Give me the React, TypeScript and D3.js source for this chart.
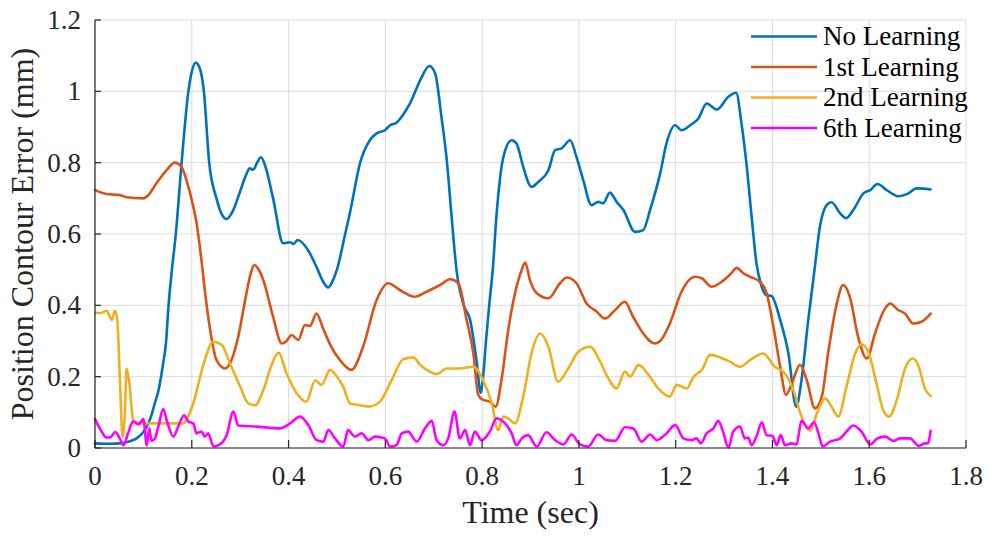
import React from 'react';
import * as d3 from 'd3';

type Pt = [number, number];

// [time (sec), error (mm)]
const noLearning: Pt[] = [
  [0, 0.013], [0.03, 0.012], [0.052, 0.013], [0.07, 0.018], [0.086, 0.027], [0.1, 0.045],
  [0.107, 0.06], [0.115, 0.085], [0.124, 0.127], [0.131, 0.16], [0.14, 0.23], [0.147, 0.3],
  [0.152, 0.4], [0.159, 0.5], [0.167, 0.6], [0.179, 0.8], [0.193, 1.0], [0.2, 1.055],
  [0.208, 1.08], [0.215, 1.07], [0.225, 1.0], [0.236, 0.8], [0.251, 0.7], [0.262, 0.655],
  [0.272, 0.642], [0.285, 0.665], [0.3, 0.72], [0.312, 0.765], [0.32, 0.784], [0.327, 0.78],
  [0.335, 0.8], [0.343, 0.815], [0.352, 0.79], [0.368, 0.7], [0.389, 0.574], [0.403, 0.577],
  [0.41, 0.572], [0.419, 0.583], [0.44, 0.555], [0.458, 0.507], [0.47, 0.47], [0.482, 0.45],
  [0.49, 0.465], [0.5, 0.5], [0.517, 0.6], [0.527, 0.66], [0.548, 0.8], [0.568, 0.863],
  [0.582, 0.882], [0.599, 0.891], [0.61, 0.905], [0.623, 0.912], [0.637, 0.935], [0.651, 0.966],
  [0.672, 1.031], [0.691, 1.071], [0.703, 1.05], [0.716, 0.928], [0.727, 0.807], [0.737, 0.648],
  [0.747, 0.5], [0.762, 0.4], [0.775, 0.36], [0.789, 0.24], [0.797, 0.155], [0.802, 0.2],
  [0.808, 0.3], [0.815, 0.405], [0.822, 0.5], [0.83, 0.657], [0.844, 0.816], [0.861, 0.863],
  [0.871, 0.854], [0.885, 0.788], [0.902, 0.732], [0.916, 0.746], [0.937, 0.779], [0.951, 0.835],
  [0.964, 0.84], [0.982, 0.863], [0.995, 0.816], [1.009, 0.751], [1.026, 0.681], [1.04, 0.69],
  [1.05, 0.686], [1.064, 0.716], [1.078, 0.69], [1.092, 0.667], [1.116, 0.606], [1.133, 0.611],
  [1.147, 0.667], [1.168, 0.77], [1.181, 0.854], [1.199, 0.905], [1.212, 0.891], [1.23, 0.905],
  [1.247, 0.924], [1.264, 0.966], [1.285, 0.949], [1.309, 0.985], [1.325, 0.996], [1.336, 0.91],
  [1.347, 0.788], [1.357, 0.648], [1.367, 0.518], [1.376, 0.46], [1.387, 0.429], [1.398, 0.426],
  [1.416, 0.359], [1.433, 0.265], [1.449, 0.116], [1.46, 0.19], [1.474, 0.359], [1.487, 0.5],
  [1.498, 0.62], [1.512, 0.681], [1.522, 0.689], [1.54, 0.658], [1.552, 0.644], [1.567, 0.667],
  [1.588, 0.714], [1.602, 0.723], [1.617, 0.74], [1.636, 0.723], [1.66, 0.706], [1.681, 0.714],
  [1.698, 0.728], [1.727, 0.725],
];

const firstLearning: Pt[] = [
  [0, 0.723], [0.024, 0.712], [0.052, 0.709], [0.065, 0.703], [0.1, 0.7], [0.11, 0.709],
  [0.127, 0.742], [0.148, 0.779], [0.165, 0.8], [0.179, 0.788], [0.189, 0.751], [0.2, 0.695],
  [0.21, 0.63], [0.22, 0.527], [0.228, 0.43], [0.238, 0.331], [0.251, 0.247], [0.269, 0.223],
  [0.279, 0.237], [0.296, 0.312], [0.313, 0.434], [0.322, 0.49], [0.329, 0.513], [0.336, 0.505],
  [0.348, 0.47], [0.368, 0.368], [0.386, 0.293], [0.396, 0.3], [0.406, 0.317], [0.42, 0.303],
  [0.434, 0.345], [0.444, 0.342], [0.458, 0.377], [0.47, 0.34], [0.486, 0.29], [0.506, 0.247],
  [0.53, 0.219], [0.554, 0.284], [0.582, 0.415], [0.606, 0.462], [0.63, 0.443], [0.661, 0.424],
  [0.685, 0.438], [0.713, 0.457], [0.734, 0.473], [0.751, 0.462], [0.768, 0.359], [0.782, 0.265],
  [0.792, 0.149], [0.802, 0.135], [0.816, 0.13], [0.828, 0.116], [0.84, 0.19], [0.854, 0.331],
  [0.868, 0.434], [0.882, 0.5], [0.889, 0.52], [0.899, 0.47], [0.913, 0.434], [0.937, 0.42],
  [0.961, 0.462], [0.975, 0.478], [0.995, 0.462], [1.016, 0.405], [1.037, 0.382], [1.054, 0.363],
  [1.075, 0.387], [1.095, 0.41], [1.112, 0.368], [1.133, 0.321], [1.157, 0.293], [1.168, 0.3],
  [1.188, 0.349], [1.212, 0.438], [1.24, 0.48], [1.254, 0.476], [1.274, 0.452], [1.295, 0.466],
  [1.315, 0.49], [1.326, 0.505], [1.34, 0.49], [1.354, 0.48], [1.374, 0.466], [1.388, 0.434],
  [1.402, 0.34], [1.416, 0.228], [1.428, 0.149], [1.44, 0.181], [1.457, 0.233], [1.471, 0.19],
  [1.488, 0.111], [1.502, 0.144], [1.515, 0.265], [1.533, 0.405], [1.546, 0.457], [1.56, 0.424],
  [1.577, 0.312], [1.595, 0.251], [1.612, 0.321], [1.629, 0.382], [1.643, 0.405], [1.66, 0.387],
  [1.674, 0.377], [1.691, 0.349], [1.708, 0.354], [1.727, 0.377],
];

const secondLearning: Pt[] = [
  [0, 0.379], [0.012, 0.378], [0.024, 0.385], [0.035, 0.359], [0.041, 0.385], [0.046, 0.36],
  [0.052, 0.172], [0.057, 0.032], [0.062, 0.106], [0.065, 0.223], [0.071, 0.181], [0.079, 0.078],
  [0.093, 0.069], [0.134, 0.069], [0.182, 0.069], [0.203, 0.125], [0.224, 0.233], [0.244, 0.298],
  [0.262, 0.289], [0.279, 0.237], [0.3, 0.172], [0.317, 0.125], [0.331, 0.12], [0.348, 0.163],
  [0.365, 0.233], [0.379, 0.267], [0.396, 0.209], [0.417, 0.153], [0.437, 0.13], [0.455, 0.19],
  [0.468, 0.177], [0.486, 0.219], [0.5, 0.2], [0.513, 0.172], [0.527, 0.125], [0.548, 0.12],
  [0.565, 0.116], [0.589, 0.13], [0.613, 0.19], [0.637, 0.249], [0.658, 0.254], [0.672, 0.233],
  [0.692, 0.214], [0.706, 0.207], [0.727, 0.223], [0.754, 0.223], [0.782, 0.228], [0.802, 0.19],
  [0.82, 0.125], [0.833, 0.05], [0.844, 0.088], [0.854, 0.083], [0.868, 0.069], [0.885, 0.144],
  [0.902, 0.265], [0.92, 0.321], [0.937, 0.284], [0.957, 0.186], [0.978, 0.223], [0.999, 0.27],
  [1.023, 0.284], [1.044, 0.242], [1.057, 0.205], [1.078, 0.167], [1.095, 0.214], [1.106, 0.2],
  [1.123, 0.233], [1.144, 0.205], [1.164, 0.167], [1.188, 0.144], [1.202, 0.177], [1.223, 0.167],
  [1.237, 0.2], [1.254, 0.219], [1.271, 0.261], [1.292, 0.254], [1.312, 0.242], [1.333, 0.228],
  [1.354, 0.247], [1.381, 0.265], [1.405, 0.228], [1.426, 0.209], [1.443, 0.163], [1.46, 0.088],
  [1.478, 0.049], [1.492, 0.097], [1.509, 0.139], [1.522, 0.116], [1.536, 0.088], [1.553, 0.172],
  [1.571, 0.265], [1.584, 0.291], [1.598, 0.27], [1.615, 0.181], [1.629, 0.106], [1.641, 0.088],
  [1.657, 0.135], [1.674, 0.223], [1.69, 0.251], [1.701, 0.233], [1.715, 0.167], [1.727, 0.146],
];

const sixthLearning: Pt[] = [
  [0, 0.081], [0.01, 0.055], [0.024, 0.029], [0.032, 0.03], [0.042, 0.045], [0.05, 0.03],
  [0.059, 0.008], [0.068, 0.04], [0.079, 0.074], [0.09, 0.066], [0.1, 0.081], [0.107, 0.008],
  [0.112, 0.055], [0.117, 0.02], [0.124, 0.027], [0.131, 0.06], [0.141, 0.109], [0.149, 0.074],
  [0.162, 0.032], [0.172, 0.06], [0.184, 0.092], [0.193, 0.074], [0.203, 0.069], [0.21, 0.041],
  [0.22, 0.046], [0.227, 0.032], [0.234, 0.041], [0.245, 0.004], [0.258, 0.01], [0.272, 0.036],
  [0.286, 0.102], [0.296, 0.063], [0.334, 0.06], [0.382, 0.055], [0.403, 0.069], [0.424, 0.088],
  [0.441, 0.064], [0.458, 0.022], [0.472, 0.018], [0.482, 0.05], [0.496, 0.027], [0.513, 0.004],
  [0.523, 0.05], [0.537, 0.032], [0.551, 0.041], [0.565, 0.022], [0.579, 0.032], [0.599, 0.027],
  [0.61, 0.004], [0.623, 0.008], [0.634, 0.041], [0.647, 0.046], [0.665, 0.018], [0.682, 0.055],
  [0.696, 0.076], [0.706, 0.022], [0.72, 0.008], [0.73, 0.027], [0.743, 0.102], [0.754, 0.027],
  [0.765, 0.05], [0.775, 0.008], [0.785, 0.046], [0.799, 0.022], [0.816, 0.046], [0.83, 0.083],
  [0.844, 0.074], [0.861, 0.041], [0.871, 0.008], [0.882, 0.027], [0.895, 0.036], [0.913, 0.004],
  [0.933, 0.044], [0.951, 0.022], [0.968, 0.01], [0.985, 0.038], [1.002, 0.01], [1.019, 0.004],
  [1.04, 0.038], [1.057, 0.022], [1.075, 0.02], [1.095, 0.058], [1.112, 0.055], [1.13, 0.018],
  [1.147, 0.038], [1.161, 0.022], [1.181, 0.041], [1.199, 0.064], [1.216, 0.027], [1.233, 0.022],
  [1.243, 0.027], [1.252, 0.013], [1.264, 0.041], [1.278, 0.055], [1.288, 0.076], [1.298, 0.046],
  [1.309, 0.001], [1.319, 0.046], [1.333, 0.06], [1.343, 0.027], [1.35, 0.029], [1.357, 0.008],
  [1.368, 0.036], [1.378, 0.072], [1.388, 0.036], [1.4, 0.034], [1.409, 0.008], [1.417, 0.036],
  [1.426, 0.008], [1.44, 0.013], [1.45, 0.01], [1.46, 0.076], [1.474, 0.055], [1.486, 0.072],
  [1.495, 0.041], [1.504, 0.004], [1.519, 0.018], [1.54, 0.027], [1.553, 0.046], [1.567, 0.063],
  [1.584, 0.046], [1.602, 0.01], [1.617, 0.027], [1.633, 0.032], [1.65, 0.02], [1.664, 0.027],
  [1.684, 0.027], [1.703, 0.006], [1.715, 0.013], [1.721, 0.013], [1.727, 0.048],
];

const seriesNames = ['No Learning', '1st Learning', '2nd Learning', '6th Learning'];
const seriesColors = ['#0072BD', '#D95319', '#EDB120', '#FF00FF'];
const seriesData = [noLearning, firstLearning, secondLearning, sixthLearning];

const xTicks = [0, 0.2, 0.4, 0.6, 0.8, 1, 1.2, 1.4, 1.6, 1.8];
const yTicks = [0, 0.2, 0.4, 0.6, 0.8, 1, 1.2];

const W = 990;
const H = 539;
const left = 95, right = 966, top = 20, bottom = 448;
const font = '"Liberation Serif", "Times New Roman", serif';
const axisColor = '#262626';

export default function App() {
  const x = d3.scaleLinear().domain([0, 1.8]).range([left, right]);
  const y = d3.scaleLinear().domain([0, 1.2]).range([bottom, top]);
  const line = d3.line<Pt>()
    .x(d => x(d[0]))
    .y(d => y(d[1]))
    .curve(d3.curveMonotoneX);

  return (
    <svg width={W} height={H} style={{ position: 'absolute', left: 0, top: 0, background: '#fff' }}>
      <rect x={0} y={0} width={W} height={H} fill="#fff" />

      {/* grid */}
      {xTicks.map(t => (
        <line key={'gx' + t} x1={x(t)} x2={x(t)} y1={top} y2={bottom} stroke="#dcdcdc" strokeWidth={1} />
      ))}
      {yTicks.map(t => (
        <line key={'gy' + t} x1={left} x2={right} y1={y(t)} y2={y(t)} stroke="#dcdcdc" strokeWidth={1} />
      ))}

      {/* data */}
      {seriesData.map((d, i) => (
        <path key={seriesNames[i]} d={line(d) || ''} fill="none" stroke={seriesColors[i]}
          strokeWidth={2.6} strokeLinejoin="round" strokeLinecap="round" />
      ))}

      {/* axes */}
      <line x1={left} x2={right} y1={bottom} y2={bottom} stroke={axisColor} strokeWidth={1.2} />
      <line x1={left} x2={left} y1={top} y2={bottom} stroke={axisColor} strokeWidth={1.2} />
      {xTicks.map(t => (
        <g key={'tx' + t}>
          <line x1={x(t)} x2={x(t)} y1={bottom} y2={bottom - 8} stroke={axisColor} strokeWidth={1.2} />
          <text x={x(t)} y={485} textAnchor="middle" fontFamily={font} fontSize={27} fill={axisColor}>
            {String(t)}
          </text>
        </g>
      ))}
      {yTicks.map(t => (
        <g key={'ty' + t}>
          <line x1={left} x2={left + 6} y1={y(t)} y2={y(t)} stroke={axisColor} strokeWidth={1.2} />
          <text x={81} y={y(t)} dy="0.33em" textAnchor="end" fontFamily={font} fontSize={27} fill={axisColor}>
            {String(t)}
          </text>
        </g>
      ))}

      {/* axis titles */}
      <text x={(left + right) / 2} y={523} textAnchor="middle" fontFamily={font} fontSize={32} fill={axisColor}>
        Time (sec)
      </text>
      <text transform={`translate(33,${(top + bottom) / 2}) rotate(-90)`} textAnchor="middle"
        fontFamily={font} fontSize={32} fill={axisColor}>
        Position Contour Error (mm)
      </text>

      {/* legend */}
      {seriesNames.map((name, i) => {
        const ly = 36.5 + i * 30.5;
        return (
          <g key={'lg' + name}>
            <line x1={751} x2={817} y1={ly} y2={ly} stroke={seriesColors[i]} strokeWidth={2.6} />
            <text x={823} y={ly} dy="0.33em" fontFamily={font} fontSize={27} fill="#000">
              {name}
            </text>
          </g>
        );
      })}
    </svg>
  );
}
